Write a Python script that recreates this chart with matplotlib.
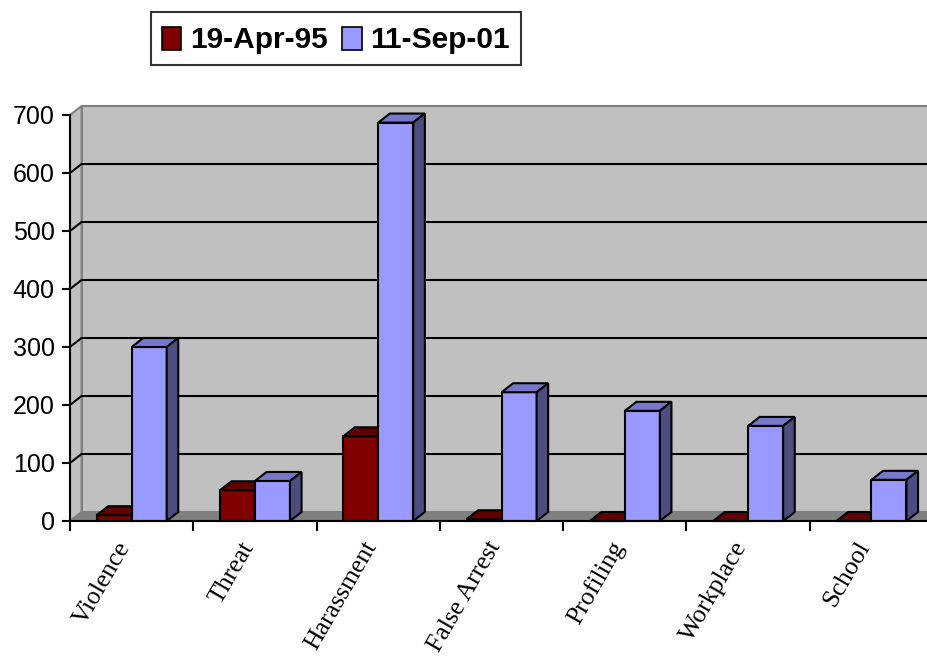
import matplotlib.pyplot as plt
from matplotlib.patches import Polygon, Patch, Rectangle
from matplotlib.legend_handler import HandlerPatch

categorias = ["Violence", "Threat", "Harassment", "False Arrest", "Profiling", "Workplace", "School"]
abril_95 = [10, 53, 146, 3, 0, 0, 0]
sept_01 = [300, 69, 687, 222, 190, 164, 71]
series = ["19-Apr-95", "11-Sep-01"]
yticks = [0, 100, 200, 300, 400, 500, 600, 700]

# colores tipo excel
colores = {
    "19-Apr-95": ("#800000", "#600000", "#400000"),
    "11-Sep-01": ("#9999FF", "#7777CC", "#4D4D80"),
}

dx = 0.094   # profundidad en unidades de categoria
dy = 15.5    # profundidad en unidades de valor
ancho = 0.284
inicio = 0.216

fig = plt.figure(figsize=(9.28, 6.58), dpi=100)
ax = fig.add_axes([70 / 928, 137 / 658, 863.1 / 928, 406 / 658])
ax.set_xlim(0, 7)
ax.set_ylim(0, 700)
ax.set_facecolor("none")
n = len(categorias)

# paredes
pared = Polygon([(dx, dy), (n + dx, dy), (n + dx, 700 + dy), (dx, 700 + dy)],
                facecolor="#C0C0C0", edgecolor="#808080", lw=1.5, clip_on=False, zorder=0)
ax.add_patch(pared)
lado = Polygon([(0, 0), (dx, dy), (dx, 700 + dy), (0, 700)],
               facecolor="#C0C0C0", edgecolor="#808080", lw=1.5, clip_on=False, zorder=0)
ax.add_patch(lado)
piso = Polygon([(0, 0), (n + 0.2, 0), (n + 0.2 + dx, dy), (dx, dy)],
               facecolor="#808080", edgecolor="#808080", lw=1, clip_on=False, zorder=1)
ax.add_patch(piso)

# lineas de la grilla en la pared del fondo
for v in yticks[1:-1]:
    ax.plot([0, dx, n + 0.2], [v, v + dy, v + dy], color="black", lw=1.5, clip_on=False, zorder=2)

def barra(x0, h, c):
    frente, arriba, costado = c
    x1 = x0 + ancho
    ax.add_patch(Polygon([(x0, 0), (x1, 0), (x1, h), (x0, h)], facecolor=frente,
                         edgecolor="black", lw=1.5, joinstyle="miter", clip_on=False, zorder=3))
    ax.add_patch(Polygon([(x0, h), (x1, h), (x1 + dx, h + dy), (x0 + dx, h + dy)], facecolor=arriba,
                         edgecolor="black", lw=1.5, joinstyle="miter", clip_on=False, zorder=3))
    ax.add_patch(Polygon([(x1, 0), (x1 + dx, dy), (x1 + dx, h + dy), (x1, h)], facecolor=costado,
                         edgecolor="black", lw=1.5, joinstyle="miter", clip_on=False, zorder=3))

for i in range(n):
    barra(i + inicio, abril_95[i], colores[series[0]])
    barra(i + inicio + ancho, sept_01[i], colores[series[1]])

for s in ["top", "right"]:
    ax.spines[s].set_visible(False)
ax.spines["left"].set_linewidth(1.5)
ax.spines["bottom"].set_linewidth(1.5)
ax.spines["bottom"].set_bounds(0, n + 0.2)
ax.spines["left"].set_zorder(4)
ax.spines["bottom"].set_zorder(4)

ax.set_yticks(yticks)
ax.set_yticklabels([str(v) for v in yticks], fontsize=18, family="Liberation Sans")
ax.tick_params(axis="y", direction="out", length=6, width=1.5, pad=5)
ax.set_xticks(range(n + 1))
ax.set_xticklabels([])
ax.tick_params(axis="x", which="major", direction="out", length=7, width=1.5)
ax.set_xticks([i + 0.45 for i in range(n)], minor=True)
ax.set_xticklabels(categorias, minor=True, rotation=60, ha="right", va="center",
                   rotation_mode="anchor", fontsize=18.5, family="Liberation Serif")
ax.tick_params(axis="x", which="minor", length=0, pad=16)

# cuadradito de la leyenda mas chico que la fila
def cuadrito(legend, orig_handle, xdescent, ydescent, width, height, fontsize):
    h = 0.8 * fontsize
    return Rectangle((-xdescent, -ydescent + (height - h) / 2), width, h)

handles = [Patch(facecolor=colores[s][0], edgecolor="black", lw=1.2, label=s) for s in series]
leg = fig.legend(handles=handles, loc="center", bbox_to_anchor=(0.362, 0.9415), ncol=2,
                 prop={"family": "Liberation Sans", "weight": "bold", "size": 21.5},
                 frameon=True, fancybox=False, shadow=False, handlelength=0.64, handleheight=1.3,
                 handletextpad=0.3, columnspacing=0.5, borderpad=0.35, borderaxespad=0,
                 handler_map={Patch: HandlerPatch(patch_func=cuadrito)})
leg.get_frame().set_edgecolor("black")
leg.get_frame().set_linewidth(1.5)

plt.savefig("out.png", dpi=100)
